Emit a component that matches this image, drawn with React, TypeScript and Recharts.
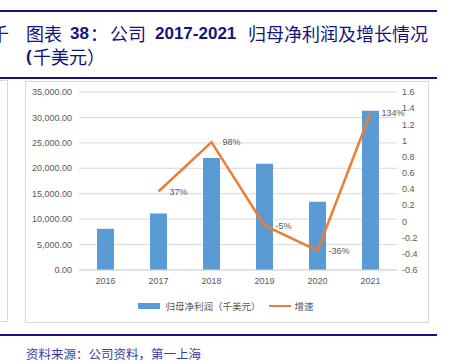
import { ComposedChart, Bar, Line, XAxis, YAxis, CartesianGrid, Legend, LabelList } from 'recharts'

// 年份
const years = ['2016', '2017', '2018', '2019', '2020', '2021']
// 归母净利润（千美元）
const profit = [8100, 11100, 22000, 20900, 13400, 31300]
// 增速
const growth: (number | null)[] = [null, 0.37, 0.98, -0.05, -0.36, 1.34]
// 刻度
const leftTicks = [0, 5000, 10000, 15000, 20000, 25000, 30000, 35000]
const rightTicks = [-0.6, -0.4, -0.2, 0, 0.2, 0.4, 0.6, 0.8, 1, 1.2, 1.4, 1.6]

const data = years.map((y, i) => ({ year: y, profit: profit[i], growth: growth[i] }))

const NAVY = '#14147a'
const GREY = '#595959'
const NUM_FONT = '"Liberation Sans", Arial, sans-serif'
const CJK_FONT = '"Noto Sans CJK SC", "Noto Sans", sans-serif'

const fmtLeft = (v: number) =>
  v.toLocaleString('en-US', { minimumFractionDigits: 2, maximumFractionDigits: 2 })

const fmtRight = (v: number) => String(Math.round(v * 10) / 10)

// 折线数据标签
const renderGrowthLabel = (props: any) => {
  const { x, y, value } = props
  if (value === null || value === undefined) return null
  return (
    <text x={x + 11} y={y} dy={3} fontSize={9} fill={GREY} fontFamily={NUM_FONT} textAnchor="start">
      {`${Math.round(value * 100)}%`}
    </text>
  )
}

const renderLegend = () => (
  <div style={{ display: 'flex', justifyContent: 'center', alignItems: 'center', height: 22, fontFamily: CJK_FONT, fontSize: 9.5, color: GREY }}>
    <span style={{ display: 'inline-block', width: 22, height: 6, background: '#5B9BD5', marginRight: 5 }} />
    <span style={{ marginRight: 8 }}>归母净利润（千美元）</span>
    <span style={{ display: 'inline-block', width: 22, height: 2, background: '#ED7D31', marginRight: 4 }} />
    <span>增速</span>
  </div>
)

const hr = (top: number) => (
  <div style={{ position: 'absolute', left: 0, top, width: 437, height: 2, background: NAVY }} />
)

// 标题片段
const piece = (left: number, top: number, text: string, bold = false) => (
  <div
    style={{
      position: 'absolute',
      left,
      top,
      fontFamily: bold ? NUM_FONT : CJK_FONT,
      fontWeight: bold ? 'bold' : 'normal',
      fontSize: bold ? 17 : 18,
      color: NAVY,
      lineHeight: '23px',
      whiteSpace: 'nowrap',
    }}
  >
    {text}
  </div>
)

export default function App() {
  return (
    <div style={{ position: 'absolute', left: 0, top: 0, width: 452, height: 363, background: '#fff', overflow: 'hidden' }}>
      {hr(10)}
      {piece(-9, 22, '千')}
      {piece(26, 22, '图表')}
      {piece(70, 22, '38', true)}
      {piece(90, 22, '：')}
      {piece(110, 22, '公司')}
      {piece(155, 22, '2017-2021', true)}
      {piece(248, 22, '归母净利润及增长情况')}
      {piece(26, 45, '(', true)}
      {piece(33, 45, '千美元）')}
      {hr(77)}

      {/* 左侧相邻图框 */}
      <div style={{ position: 'absolute', left: -10, top: 80, width: 18, height: 242, border: '1px solid #D9D9D9', boxSizing: 'border-box' }} />

      <div style={{ position: 'absolute', left: 25, top: 81, width: 404, height: 242, border: '1px solid #D9D9D9', boxSizing: 'border-box' }}>
        <ComposedChart
          width={403}
          height={241}
          data={data}
          margin={{ top: 11, right: 0, left: -1, bottom: 5 }}
          style={{ position: 'absolute', left: -1, top: -1 }}
        >
          <CartesianGrid yAxisId="left" vertical={false} stroke="#D9D9D9" />
          <XAxis
            dataKey="year"
            height={25}
            tickLine={false}
            axisLine={{ stroke: '#D9D9D9' }}
            tickSize={0}
            tickMargin={8}
            tick={{ fontSize: 9, fill: GREY, fontFamily: NUM_FONT }}
          />
          <YAxis
            yAxisId="left"
            width={55}
            domain={[0, 35000]}
            ticks={leftTicks}
            tickFormatter={fmtLeft}
            tickLine={false}
            axisLine={false}
            tickSize={0}
            tickMargin={7}
            tick={{ fontSize: 9, fill: GREY, fontFamily: NUM_FONT }}
          />
          <YAxis
            yAxisId="right"
            orientation="right"
            width={31}
            domain={[-0.6, 1.6]}
            ticks={rightTicks}
            tickFormatter={fmtRight}
            tickLine={false}
            axisLine={false}
            tickSize={0}
            tickMargin={5}
            tick={{ fontSize: 9, fill: GREY, fontFamily: NUM_FONT, textAnchor: 'start' }}
          />
          <Legend verticalAlign="bottom" height={22} content={renderLegend} />
          <Bar yAxisId="left" dataKey="profit" fill="#5B9BD5" barSize={17} isAnimationActive={false} />
          <Line
            yAxisId="right"
            dataKey="growth"
            stroke="#ED7D31"
            strokeWidth={2.5}
            dot={false}
            activeDot={false}
            isAnimationActive={false}
          >
            <LabelList dataKey="growth" content={renderGrowthLabel} />
          </Line>
        </ComposedChart>
      </div>

      {hr(334)}
      <div style={{ position: 'absolute', left: 26, top: 345, fontFamily: CJK_FONT, fontSize: 12.5, color: '#3a3a9e', lineHeight: '18px', whiteSpace: 'nowrap' }}>
        资料来源：公司资料，第一上海
      </div>
    </div>
  )
}
